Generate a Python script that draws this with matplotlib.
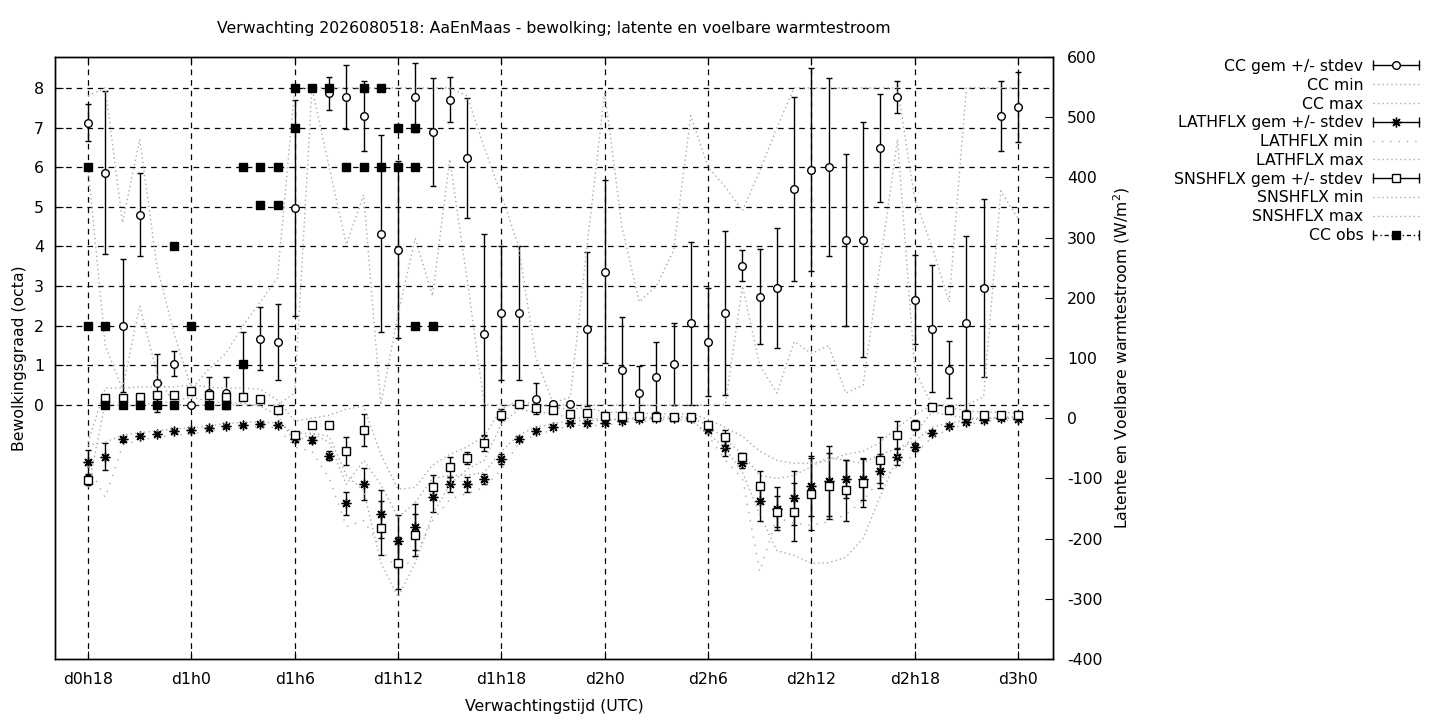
import matplotlib
matplotlib.use('Agg')
import matplotlib.pyplot as plt
import numpy as np
from matplotlib.lines import Line2D
from matplotlib.legend_handler import HandlerLine2D, HandlerTuple

plt.rcParams['axes.unicode_minus'] = False

# forecast hours since d0h0
hours = np.arange(18, 73)

# cloud cover (octa)
cc_gem = [7.12, 5.86, 2.00, 4.80, 0.56, 1.04, 0.00, 0.30, 0.30, 1.03, 1.67, 1.59,
          4.97, 8.00, 7.86, 7.77, 7.30, 4.32, 3.92, 7.77, 6.89, 7.70, 6.23, 1.78,
          2.32, 2.32, 0.16, 0.03, 0.03, 1.92, 3.36, 0.89, 0.31, 0.71, 1.04, 2.06,
          1.59, 2.32, 3.51, 2.73, 2.95, 5.45, 5.94, 6.01, 4.17, 4.17, 6.49, 7.77,
          2.66, 1.92, 0.89, 2.07, 2.95, 7.30, 7.52]
cc_std = [0.47, 2.05, 1.68, 1.05, 0.73, 0.32, 0.00, 0.40, 0.40, 0.82, 0.80, 0.96,
          2.72, 0.00, 0.41, 0.80, 0.88, 2.48, 2.24, 0.87, 1.37, 0.57, 1.52, 2.54,
          1.69, 1.69, 0.40, 0.00, 0.00, 1.95, 2.31, 1.33, 0.67, 0.88, 1.03, 2.06,
          1.36, 2.08, 0.39, 1.20, 1.52, 2.32, 2.56, 2.25, 2.17, 2.96, 1.36, 0.40,
          1.13, 1.60, 0.72, 2.20, 2.25, 0.88, 0.89]
cc_min = [6.0, 1.5, 0.4, 2.5, 0.8, 0.0, 0.0, 0.0, 0.0, 0.0, 0.0, 0.0,
          0.3, 8.0, 6.0, 4.05, 5.3, 0.0, 2.3, 4.2, 2.75, 6.2, 3.2, 0.0,
          0.0, 0.0, 0.0, 0.0, 0.0, 0.0, 0.0, 0.0, 0.0, 0.0, 0.0, 0.0,
          0.0, 0.0, 3.0, 1.0, 0.3, 1.6, 1.3, 1.5, 0.3, 0.5, 3.6, 6.7,
          0.9, 0.0, 0.0, 0.0, 0.2, 5.4, 4.7]
cc_max = [7.8, 8.0, 4.6, 6.7, 3.5, 1.8, 0.4, 0.9, 1.3, 2.0, 2.6, 3.2,
          8.0, 8.0, 8.0, 8.0, 8.0, 8.0, 8.0, 8.0, 8.0, 8.0, 7.8, 6.5,
          5.3, 4.0, 1.2, 0.05, 0.2, 4.1, 7.9, 4.5, 2.6, 3.0, 3.9, 7.3,
          6.0, 5.5, 4.9, 5.9, 7.0, 8.0, 8.0, 8.0, 8.0, 8.0, 8.0, 8.0,
          5.2, 4.0, 2.6, 8.0, 8.0, 8.0, 8.0]

# latent heat flux (W/m2)
lath_gem = [-73, -64, -35, -29, -26, -22, -20, -17, -13, -11, -10, -11,
            -35, -37, -62, -141, -109, -159, -204, -181, -131, -110, -110, -101,
            -68, -35, -21, -14, -8, -8, -8, -4, -1, 0, 0, 0,
            -20, -50, -75, -138, -150, -132, -112, -104, -101, -101, -88, -64,
            -48, -24, -13, -6, -3, 0, -1]
lath_std = [20, 22, 4, 3, 3, 3, 3, 3, 2, 2, 2, 2,
            5, 5, 8, 19, 27, 40, 43, 38, 24, 13, 13, 9,
            8, 3, 3, 3, 2, 2, 2, 2, 2, 2, 2, 2,
            3, 12, 8, 32, 35, 45, 50, 58, 32, 35, 28, 14,
            6, 4, 3, 2, 2, 2, 2]
lath_min = [-80, -132, -45, -36, -32, -28, -26, -22, -17, -15, -14, -16,
            -48, -55, -100, -180, -170, -215, -255, -230, -170, -135, -125, -115,
            -85, -42, -27, -20, -12, -12, -12, -8, -5, -4, -4, -4,
            -28, -70, -100, -255, -165, -175, -178, -172, -160, -137, -101, -80,
            -60, -32, -18, -10, -6, -3, -4]
lath_max = [-45, -40, -28, -24, -21, -18, -16, -13, -9, -7, -6, -8,
            -25, -25, -40, -110, -70, -110, -165, -140, -100, -95, -95, -90,
            -55, -28, -15, -9, -4, -4, -4, -1, 1, 2, 2, 2,
            -12, -35, -60, -95, -100, -95, -80, -65, -70, -75, -60, -50,
            -38, -15, -8, -3, -1, 2, 2]

# sensible heat flux (W/m2)
snsh_gem = [-103, 33, 34, 36, 39, 39, 46, 39, 36, 36, 32, 14,
            -28, -11, -11, -54, -20, -183, -240, -194, -114, -81, -66, -42,
            6, 23, 17, 14, 7, 9, 4, 4, 4, 2, 2, 2,
            -11, -32, -65, -112, -155, -156, -126, -112, -120, -108, -69, -28,
            -11, 18, 13, 6, 5, 6, 5]
snsh_std = [8, 6, 5, 5, 5, 5, 4, 5, 5, 5, 4, 4,
            5, 4, 4, 23, 27, 45, 43, 35, 20, 16, 10, 12,
            9, 4, 3, 3, 2, 2, 2, 2, 2, 2, 2, 2,
            3, 12, 8, 25, 25, 48, 60, 55, 50, 40, 38, 23,
            8, 4, 3, 2, 2, 2, 2]
snsh_min = [-115, 25, 20, 22, 25, 28, 35, 28, 25, 25, 20, 5,
            -40, -25, -30, -95, -120, -240, -297, -240, -160, -110, -85, -70,
            -10, 15, 10, 8, 0, 0, -2, -2, 0, -1, -2, -3,
            -25, -50, -90, -160, -220, -228, -241, -240, -231, -200, -130, -65,
            -25, 10, 5, 0, 0, 0, 0]
snsh_max = [-40, 50, 50, 52, 52, 52, 55, 52, 50, 50, 48, 30,
            -5, 0, 5, 15, 20, -60, -118, -115, -78, -60, -48, -30,
            15, 30, 22, 18, 15, 18, 10, 10, 8, 8, 6, 8,
            -2, -15, -30, -55, -70, -75, -75, -70, -60, -55, -40, -15,
            5, 22, 18, 12, 10, 10, 8]

# observed cloud cover (octa)
obs_hours = [18, 18, 19, 19, 20, 21, 22, 23, 23, 24, 25, 26, 27, 27, 28, 28, 29, 29,
             30, 30, 31, 32, 33, 34, 34, 35, 35, 36, 36, 37, 37, 37, 38]
obs_cc = [6, 2, 2, 0, 0, 0, 0, 4, 0, 2, 0, 0, 6, 1.03, 6, 5.05, 6, 5.05,
          8, 7, 8, 8, 6, 8, 6, 8, 6, 7, 6, 7, 6, 2, 2]

tick_hours = [18, 24, 30, 36, 42, 48, 54, 60, 66, 72]
tick_labels = ['d0h18', 'd1h0', 'd1h6', 'd1h12', 'd1h18', 'd2h0', 'd2h6', 'd2h12', 'd2h18', 'd3h0']

FS = 11.35
GREY = '#aaaaaa'
DENSE = (0, (1, 2.2))
SPARSE = (0, (1, 5))

fig = plt.figure(figsize=(14.4, 7.2), dpi=100)
ax1 = fig.add_axes([55 / 1440, 1 - 659 / 720, 998 / 1440, 602 / 720])
ax2 = ax1.twinx()
ax3 = ax1.twinx()

ax1.set_xlim(16.08, 74.03)
ax1.set_ylim(-6.41, 8.78)
ax2.set_ylim(-400, 600)
ax3.set_ylim(ax1.get_ylim())
ax3.axis('off')

ebkw = dict(color='k', ecolor='k', elinewidth=1, capsize=2.5, capthick=1, linestyle='none')

# cloud cover
ax1.errorbar(hours, cc_gem, yerr=cc_std, fmt='o', ms=5.5, mfc='white', mec='k', mew=1, **ebkw)
ax1.plot(hours, cc_min, color=GREY, lw=1, linestyle=DENSE)
ax1.plot(hours, cc_max, color=GREY, lw=1, linestyle=DENSE)

# fluxes
ax2.errorbar(hours, lath_gem, yerr=lath_std, fmt='none', **ebkw)
ax2.plot(hours, lath_gem, linestyle='none', marker=(8, 2, 0), ms=7, color='k', mew=1)
ax2.plot(hours, lath_min, color=GREY, lw=1, linestyle=SPARSE)
ax2.plot(hours, lath_max, color=GREY, lw=1, linestyle=DENSE)
ax2.errorbar(hours, snsh_gem, yerr=snsh_std, fmt='s', ms=5.5, mfc='white', mec='k', mew=1, **ebkw)
ax2.plot(hours, snsh_min, color=GREY, lw=1, linestyle=DENSE)
ax2.plot(hours, snsh_max, color=GREY, lw=1, linestyle=DENSE)

# observations
ax3.plot(obs_hours, obs_cc, linestyle='none', marker='s', ms=6, color='k')

# grid and ticks
dash = (0, (4.5, 4))
ax1.set_xticks(tick_hours)
ax1.set_xticklabels(tick_labels)
ax1.set_yticks(range(0, 9))
ax1.grid(True, color='k', lw=0.9, linestyle=dash)
ax1.set_axisbelow(True)
ax2.set_yticks(range(-400, 601, 100))

ax1.tick_params(axis='x', direction='in', length=6, top=True, labelsize=FS, pad=9)
ax1.tick_params(axis='y', direction='in', length=6, labelsize=FS, pad=8)
ax2.tick_params(axis='y', direction='in', length=6, labelsize=FS, pad=10)
for ax in (ax1, ax2):
    for s in ax.spines.values():
        s.set_linewidth(1)

ax1.set_xlabel('Verwachtingstijd (UTC)', fontsize=FS, labelpad=9)
ax1.set_ylabel('Bewolkingsgraad (octa)', fontsize=FS, labelpad=5)
ax2.set_ylabel('Latente en Voelbare warmtestroom (W/m$^2$)', fontsize=FS, labelpad=6.6)
fig.text(554 / 1440, 1 - 29 / 720,
         'Verwachting 2026080518: AaEnMaas - bewolking; latente en voelbare warmtestroom',
         ha='center', va='center', fontsize=FS)

# gnuplot-style key
def cap_line(ls='-'):
    return Line2D([], [], color='k', lw=1, linestyle=ls, marker='|', ms=7, mew=1)

caps = [cap_line(), cap_line(), cap_line(), cap_line((0, (3, 2, 1, 2)))]
h_cc = (caps[0], Line2D([], [], linestyle='none', marker='o', ms=5.5, mfc='white', mec='k', mew=1))
h_lat = (caps[1], Line2D([], [], linestyle='none', marker=(8, 2, 0), ms=7, color='k', mew=1))
h_sn = (caps[2], Line2D([], [], linestyle='none', marker='s', ms=5.5, mfc='white', mec='k', mew=1))
h_obs = (caps[3], Line2D([], [], linestyle='none', marker='s', ms=6, color='k'))
dense = Line2D([], [], color=GREY, lw=1, linestyle=DENSE)
sparse = Line2D([], [], color=GREY, lw=1, linestyle=SPARSE)

handles = [h_cc, dense, dense, h_lat, sparse, dense, h_sn, dense, dense, h_obs]
labels = ['CC gem +/- stdev', 'CC min', 'CC max', 'LATHFLX gem +/- stdev', 'LATHFLX min',
          'LATHFLX max', 'SNSHFLX gem +/- stdev', 'SNSHFLX min', 'SNSHFLX max', 'CC obs']
hmap = {tuple: HandlerTuple(ndivide=1, pad=0)}
for c in caps:
    hmap[c] = HandlerLine2D(numpoints=2, marker_pad=0)

fig.legend(handles, labels, loc='upper right', bbox_to_anchor=(1419 / 1440, 1 - 59 / 720),
           frameon=False, markerfirst=False, numpoints=1, handlelength=2.9,
           handletextpad=0.63, labelspacing=0.24, borderpad=0, borderaxespad=0,
           fontsize=FS, handler_map=hmap)

fig.savefig('out.png', dpi=100)
